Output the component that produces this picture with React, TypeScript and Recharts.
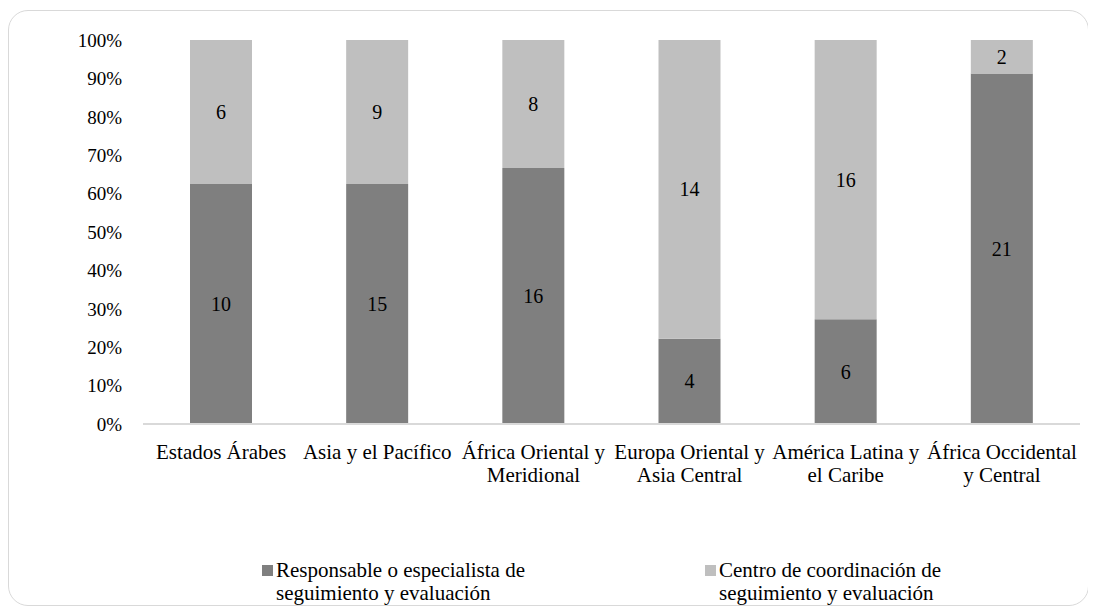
import React from "react";
import { BarChart, Bar, XAxis, YAxis, Legend, LabelList } from "recharts";

const categories = [
  "Estados Árabes",
  "Asia y el Pacífico",
  "África Oriental y\nMeridional",
  "Europa Oriental y\nAsia Central",
  "América Latina y\nel Caribe",
  "África Occidental\ny Central",
];
const responsable = [10, 15, 16, 4, 6, 21];
const centro = [6, 9, 8, 14, 16, 2];
const yTicks = [0, 0.1, 0.2, 0.3, 0.4, 0.5, 0.6, 0.7, 0.8, 0.9, 1];

const seriesNames = [
  "Responsable o especialista de\nseguimiento y evaluación",
  "Centro de coordinación de\nseguimiento y evaluación",
];
const DARK = "#7f7f7f";
const LIGHT = "#bfbfbf";
const FONT = '"Liberation Serif", "Times New Roman", serif';

const data = categories.map((name, i) => ({
  name,
  responsable: responsable[i],
  centro: centro[i],
}));

function CategoryTick(props: any) {
  const { x, y, payload } = props;
  const lines = String(payload.value).split("\n");
  return (
    <text x={x} y={y} textAnchor="middle" fill="#000" fontSize={21} fontFamily={FONT}>
      {lines.map((line, i) => (
        <tspan key={i} x={x} dy={i === 0 ? 33 : 23}>
          {line}
        </tspan>
      ))}
    </text>
  );
}

function CustomLegend() {
  const colors = [DARK, LIGHT];
  return (
    <div style={{ display: "flex", paddingLeft: 253, fontFamily: FONT, fontSize: 21, lineHeight: "23px", color: "#000" }}>
      {seriesNames.map((n, i) => (
        <div key={i} style={{ display: "flex", width: i === 0 ? 443 : 300 }}>
          <div style={{ width: 11, height: 11, background: colors[i], marginTop: 6, marginRight: 3, flexShrink: 0 }} />
          <div style={{ whiteSpace: "pre" }}>{n}</div>
        </div>
      ))}
    </div>
  );
}

export default function App() {
  return (
    <div
      style={{
        marginTop: 2,
        width: 1081,
        height: 596,
        boxSizing: "border-box",
        border: "1px solid #d9d9d9",
        borderRadius: 20,
        overflow: "hidden",
        position: "relative",
      }}
    >
      <BarChart
        width={1079}
        height={594}
        data={data}
        stackOffset="expand"
        barSize={62}
        margin={{ top: 29, right: 8, left: 0, bottom: 121 }}
      >
        <XAxis
          dataKey="name"
          axisLine={{ stroke: "#d9d9d9", strokeWidth: 2 }}
          tickLine={false}
          tickSize={0}
          interval={0}
          height={60}
          tick={<CategoryTick />}
        />
        <YAxis
          width={134}
          domain={[0, 1]}
          ticks={yTicks}
          axisLine={false}
          tickLine={false}
          tickSize={0}
          tickMargin={21}
          tickFormatter={(v: number) => `${Math.round(v * 100)}%`}
          tick={{ fill: "#000", fontSize: 19, fontFamily: FONT }}
        />
        <Legend
          layout="vertical"
          verticalAlign="middle"
          align="center"
          wrapperStyle={{ top: 548, left: 0, width: 1079 }}
          content={<CustomLegend />}
        />
        <Bar dataKey="responsable" stackId="a" fill={DARK} isAnimationActive={false}>
          <LabelList dataKey="responsable" position="center" fill="#000" fontSize={20} fontFamily={FONT} />
        </Bar>
        <Bar dataKey="centro" stackId="a" fill={LIGHT} isAnimationActive={false}>
          <LabelList dataKey="centro" position="center" fill="#000" fontSize={20} fontFamily={FONT} />
        </Bar>
      </BarChart>
    </div>
  );
}
